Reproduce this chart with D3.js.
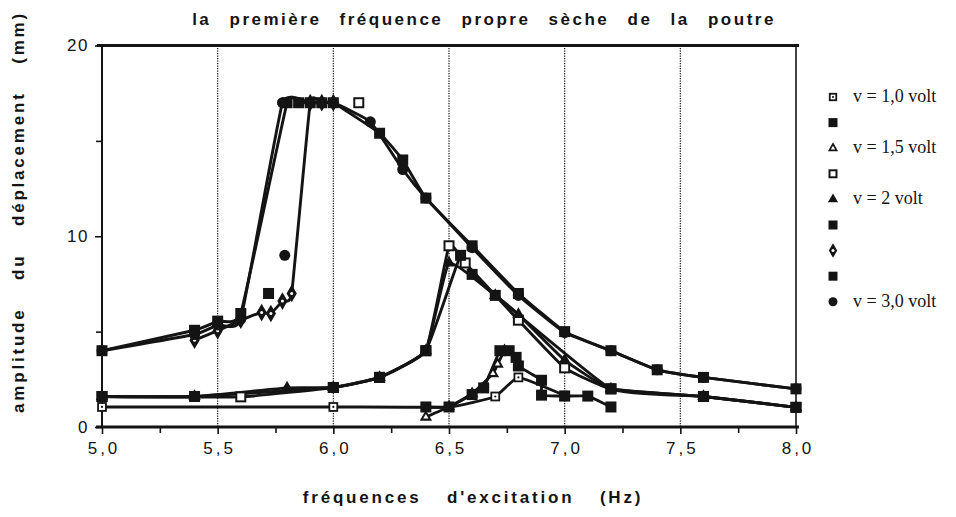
<!DOCTYPE html>
<html>
<head>
<meta charset="utf-8">
<script src="https://cdn.jsdelivr.net/npm/d3@7"></script>
<style>
  body { margin: 0; background: #fff; }
  svg text { fill: #141414; }
</style>
</head>
<body>
<svg id="chart" width="956" height="517"></svg>
<script>
// ---- axis ticks and labels ----
const xTicks = [5.0, 5.5, 6.0, 6.5, 7.0, 7.5, 8.0];
const xMinorTicks = [5.25, 5.75, 6.25, 6.75, 7.25, 7.75];
const xGrid = [5.5, 6.0, 6.5, 7.0, 7.5];
const yTicks = [0, 10, 20];
const yMinorTicks = [5, 15];
const titleText = "la première fréquence propre sèche de la poutre";
const xTitle = "fréquences d'excitation (Hz)";
const yTitle = "amplitude du déplacement (mm)";
const legendLabels = ["v = 1,0 volt", "", "v = 1,5 volt", "", "v = 2 volt", "", "", "", "v = 3,0 volt"];

// ---- measured amplitudes (mm) against excitation frequency (Hz) ----
// NaN separates a stray reading from the connected sweep.
const f1 = [5.0, 6.0, 6.5, 6.7, 6.8, 7.0];
const a1 = [1.05, 1.05, 1.05, 1.6, 2.6, 1.65];

const f2 = [6.4, 6.5, 6.6, 6.65, 6.72, 6.76, 6.79, 6.8, 6.9, 6.9, 7.0, 7.1, 7.2];
const a2 = [1.05, 1.05, 1.7, 2.05, 4.0, 4.0, 3.65, 3.2, 2.45, 1.67, 1.62, 1.62, 1.05];

const f3 = [6.4, 6.5, 6.6, 6.69, 6.71, 6.74];
const a3 = [0.52, 1.06, 1.75, 2.8, 3.3, 4.0];

const f4 = [6.11, NaN, 5.0, 5.6, 6.0, 6.2, 6.4, 6.5, 6.57, 6.8, 7.0, 7.2, 7.6, 8.0];
const a4 = [17.0, NaN, 1.6, 1.58, 2.07, 2.6, 4.0, 9.5, 8.6, 5.6, 3.1, 2.0, 1.6, 1.03];

const f5 = [5.0, 5.4, 5.8, 6.0, 6.2, 6.4, 6.5, 6.7, 6.8, 7.0, 7.2, 7.6, 8.0];
const a5 = [1.6, 1.6, 2.05, 2.07, 2.6, 4.0, 8.6, 6.9, 5.9, 3.5, 2.0, 1.6, 1.03];

const f6 = [5.0, 5.4, 6.0, 6.2, 6.4, 6.55, 6.6, 6.7, 7.2, 7.6, 8.0];
const a6 = [1.6, 1.6, 2.07, 2.6, 4.0, 9.0, 8.0, 6.9, 2.0, 1.6, 1.03];

const f7 = [5.4, 5.5, 5.6, 5.69, 5.73, 5.78, 5.82, 5.9, 5.95, 6.0];
const a7 = [4.55, 5.05, 5.6, 6.0, 5.95, 6.6, 7.0, 17.0, 17.0, 17.0];

const f8 = [5.72, NaN, 5.0, 5.4, 5.5, 5.6, 5.8, 5.85, 5.9, 5.95, 6.0, 6.2, 6.3, 6.4, 6.6, 6.8, 7.0, 7.2, 7.4, 7.6, 8.0];
const a8 = [7.0, NaN, 4.0, 5.07, 5.55, 5.95, 17.0, 17.0, 17.0, 17.0, 17.0, 15.4, 14.0, 12.0, 9.5, 7.0, 5.0, 4.0, 3.0, 2.6, 2.0];

const f9 = [5.79, NaN, 5.0, 5.4, 5.5, 5.6, 5.78, 5.9, 6.0, 6.16, 6.3, 6.4, 6.6, 6.8, 7.0, 7.2, 7.4, 7.6, 8.0];
const a9 = [9.0, NaN, 4.0, 4.85, 5.35, 5.65, 17.0, 17.0, 17.0, 16.0, 13.5, 12.0, 9.4, 6.9, 4.95, 4.0, 3.0, 2.6, 2.0];

const freqs = [f1, f2, f3, f4, f5, f6, f7, f8, f9];
const amps = [a1, a2, a3, a4, a5, a6, a7, a8, a9];

// ---- drawing ----
const ink = "#141414";
const sans = "Liberation Sans, Arial, sans-serif";
const svg = d3.select("#chart");
const x = d3.scaleLinear().domain([5, 8]).range([102, 796]);
const y = d3.scaleLinear().domain([0, 20]).range([427, 45.5]);

// marker painters, keyed by legend position
const markKinds = ["sqDot", "sq", "triOpen", "sqOpen", "tri", "sq", "diaDot", "sq", "circle"];
function drawMark(g, kind, s) {
  const sym = (t, size) => d3.symbol(t, size)();
  if (kind === "sq") {
    g.append("rect").attr("x", -s / 2).attr("y", -s / 2).attr("width", s).attr("height", s).attr("fill", ink);
  } else if (kind === "sqOpen") {
    const w = s - 2;
    g.append("rect").attr("x", -w / 2).attr("y", -w / 2).attr("width", w).attr("height", w)
      .attr("fill", "#fff").attr("stroke", ink).attr("stroke-width", 2);
  } else if (kind === "sqDot") {
    const w = s * 0.72;
    g.append("rect").attr("x", -w / 2).attr("y", -w / 2).attr("width", w).attr("height", w)
      .attr("fill", "#fff").attr("stroke", ink).attr("stroke-width", 1.8);
    g.append("circle").attr("r", 1.1).attr("fill", ink);
  } else if (kind === "tri") {
    g.append("path").attr("d", sym(d3.symbolTriangle, s * s * 0.55)).attr("fill", ink);
  } else if (kind === "triOpen") {
    g.append("path").attr("d", sym(d3.symbolTriangle, s * s * 0.55)).attr("fill", ink);
    g.append("path").attr("d", sym(d3.symbolTriangle, s * s * 0.1)).attr("fill", "#fff");
  } else if (kind === "diaDot") {
    g.append("path").attr("d", sym(d3.symbolDiamond, s * s * 0.75)).attr("fill", ink);
    g.append("circle").attr("r", 1.5).attr("fill", "#fff");
  } else if (kind === "circle") {
    g.append("circle").attr("r", s / 2).attr("fill", ink);
  }
}

// vertical dotted grid
svg.append("g").selectAll("line").data(xGrid).join("line")
  .attr("x1", d => x(d)).attr("x2", d => x(d))
  .attr("y1", y(20)).attr("y2", y(0))
  .attr("stroke", ink).attr("stroke-width", 1.2).attr("stroke-dasharray", "1.2,1.3");

// right border
svg.append("line").attr("x1", x(8)).attr("x2", x(8)).attr("y1", y(20)).attr("y2", y(0))
  .attr("stroke", ink).attr("stroke-width", 1.6);

// top frame line
svg.append("line").attr("x1", x(5) - 5).attr("x2", x(8) + 3).attr("y1", y(20)).attr("y2", y(20))
  .attr("stroke", ink).attr("stroke-width", 3);

// x axis
const xAxis = d3.axisBottom(x).tickValues(xTicks).tickSize(7).tickPadding(8)
  .tickFormat(d => d3.format(".1f")(d).replace(".", ","));
const gx = svg.append("g").attr("transform", `translate(0,${y(0)})`).call(xAxis);
gx.select(".domain").attr("stroke", ink).attr("stroke-width", 3).attr("d", `M${x(5) - 6},0H${x(8) + 3}`);
gx.selectAll(".tick line").attr("stroke", ink).attr("stroke-width", 1.6);
gx.selectAll(".tick text").attr("font-family", sans)
  .attr("font-size", 17).attr("letter-spacing", "3px").attr("dx", "1.5px").attr("fill", ink);
const gxm = svg.append("g").attr("transform", `translate(0,${y(0)})`)
  .call(d3.axisBottom(x).tickValues(xMinorTicks).tickSize(6).tickFormat(""));
gxm.select(".domain").remove();
gxm.selectAll(".tick line").attr("stroke", ink).attr("stroke-width", 1.6);

// y axis
const yAxis = d3.axisLeft(y).tickValues(yTicks).tickSize(7).tickPadding(6).tickFormat(d3.format("d"));
const gy = svg.append("g").attr("transform", `translate(${x(5)},0)`).call(yAxis);
gy.select(".domain").attr("stroke", ink).attr("stroke-width", 2).attr("d", `M0,${y(20)}V${y(0)}`);
gy.selectAll(".tick line").attr("stroke", ink).attr("stroke-width", 1.6);
gy.selectAll(".tick text").attr("font-family", sans)
  .attr("font-size", 17).attr("letter-spacing", "1.5px").attr("fill", ink);
const gym = svg.append("g").attr("transform", `translate(${x(5)},0)`)
  .call(d3.axisLeft(y).tickValues(yMinorTicks).tickSize(6).tickFormat(""));
gym.select(".domain").remove();
gym.selectAll(".tick line").attr("stroke", ink).attr("stroke-width", 1.6);

// curves
const pts = freqs.map((f, i) => f.map((v, j) => [v, amps[i][j]]));
const line = d3.line()
  .defined(d => !isNaN(d[0]) && !isNaN(d[1]))
  .x(d => x(d[0])).y(d => y(d[1]))
  .curve(d3.curveCardinal.tension(0.65));

const gLines = svg.append("g");
pts.forEach(p => {
  gLines.append("path").attr("d", line(p)).attr("fill", "none")
    .attr("stroke", ink).attr("stroke-width", 2.9).attr("stroke-linejoin", "round");
});

// markers, filled series painted over the open ones where they share a point
const markOrder = [0, 2, 1, 3, 5, 4, 6, 7, 8];
const gMarks = svg.append("g");
markOrder.forEach(i => {
  pts[i].forEach(d => {
    if (isNaN(d[0]) || isNaN(d[1])) return;
    const g = gMarks.append("g").attr("transform", `translate(${x(d[0])},${y(d[1])})`);
    drawMark(g, markKinds[i], 11);
  });
});

// legend
const gLeg = svg.append("g");
legendLabels.forEach((lab, i) => {
  const ly = 97 + i * 25.6;
  const g = gLeg.append("g").attr("transform", `translate(833,${ly})`);
  drawMark(g, markKinds[i], 9);
  if (lab) {
    gLeg.append("text").attr("x", 853).attr("y", ly + 5)
      .attr("font-family", "Liberation Serif, Times New Roman, serif")
      .attr("font-size", 18).text(lab);
  }
});

// titles
svg.append("text").attr("x", 484).attr("y", 25).attr("text-anchor", "middle")
  .attr("font-family", sans).attr("font-weight", "bold")
  .attr("font-size", 17).attr("letter-spacing", "2.5px").attr("word-spacing", "11px")
  .text(titleText);

svg.append("text").attr("x", 473).attr("y", 503).attr("text-anchor", "middle")
  .attr("font-family", sans).attr("font-weight", "bold")
  .attr("font-size", 17).attr("letter-spacing", "2.8px").attr("word-spacing", "18px")
  .text(xTitle);

svg.append("text").attr("transform", "translate(24,212) rotate(-90)").attr("text-anchor", "middle")
  .attr("font-family", sans).attr("font-weight", "bold")
  .attr("font-size", 17).attr("letter-spacing", "2.8px").attr("word-spacing", "20px")
  .text(yTitle);
</script>
</body>
</html>
